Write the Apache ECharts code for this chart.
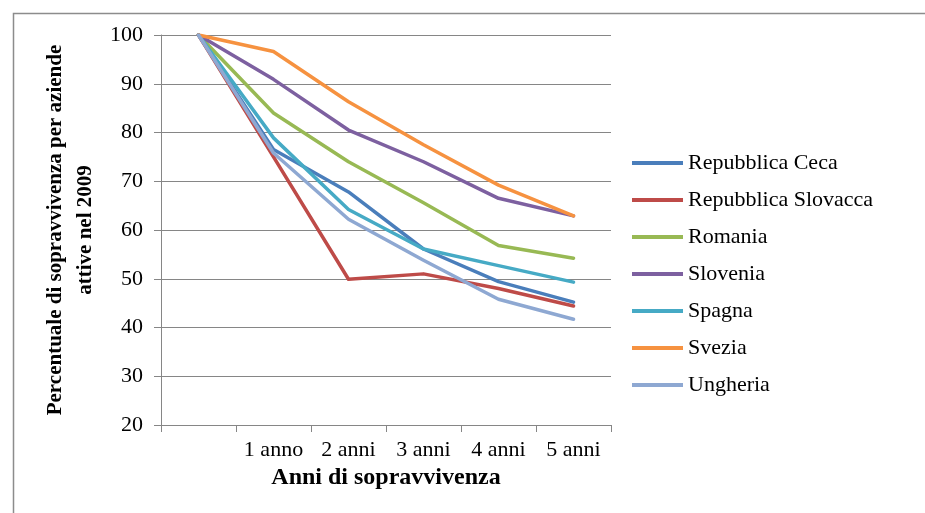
<!DOCTYPE html>
<html>
<head>
<meta charset="utf-8">
<script src="https://cdn.jsdelivr.net/npm/echarts@6/dist/echarts.min.js"></script>
<style>
  html, body { margin: 0; padding: 0; background: #ffffff; }
  #chart { width: 925px; height: 513px; }
</style>
</head>
<body>
<div id="chart"></div>
<script>
// Survival years (first slot is the starting point, left unlabelled)
const categories = ['', '1 anno', '2 anni', '3 anni', '4 anni', '5 anni'];

// Share of firms active in 2009 still alive after n years (%)
const repubblicaCeca     = [100, 76.5, 67.8, 56.1, 49.4, 45.2];
const repubblicaSlovacca = [100, 75.0, 49.9, 51.0, 48.0, 44.4];
const romania            = [100, 84.0, 74.0, 65.6, 56.8, 54.2];
const slovenia           = [100, 90.9, 80.5, 74.0, 66.5, 62.9];
const spagna             = [100, 78.9, 64.2, 56.1, 52.7, 49.3];
const svezia             = [100, 96.6, 86.3, 77.5, 69.2, 62.9];
const ungheria           = [100, 75.8, 62.2, 53.8, 45.8, 41.7];

const yTicks = { min: 20, max: 100, step: 10 };

const seriesList = [
  { name: 'Repubblica Ceca',     data: repubblicaCeca,     color: '#4A7EBB' },
  { name: 'Repubblica Slovacca', data: repubblicaSlovacca, color: '#BE4B48' },
  { name: 'Romania',             data: romania,            color: '#98B954' },
  { name: 'Slovenia',            data: slovenia,           color: '#7D60A0' },
  { name: 'Spagna',              data: spagna,             color: '#46AAC5' },
  { name: 'Svezia',              data: svezia,             color: '#F69240' },
  { name: 'Ungheria',            data: ungheria,           color: '#8EA8D2' }
];

const serif = '"Liberation Serif", "Times New Roman", serif';
const gridGray = '#868686';

const chart = echarts.init(document.getElementById('chart'), null, { renderer: 'canvas' });

chart.setOption({
  backgroundColor: '#ffffff',
  animation: false,
  graphic: [{
    type: 'rect',
    left: 11, top: 11,
    shape: { x: 0, y: 0, width: 1000, height: 600 },
    style: { fill: 'none', stroke: '#8C8C8C', lineWidth: 1.5 },
    silent: true
  }],
  grid: { left: 161, right: 314, top: 35, bottom: 88, containLabel: false },
  legend: {
    orient: 'vertical',
    left: 632,
    top: 152,
    padding: 0,
    itemWidth: 51,
    itemHeight: 14,
    itemGap: 15,
    icon: 'path://M0,0 L51,0 L51,4 L0,4 Z',
    textStyle: { fontFamily: serif, fontSize: 22, color: '#000', lineHeight: 22 },
    data: seriesList.map(s => s.name)
  },
  xAxis: {
    type: 'category',
    data: categories,
    boundaryGap: true,
    name: 'Anni di sopravvivenza',
    nameLocation: 'middle',
    nameGap: 41,
    nameTextStyle: { fontFamily: serif, fontSize: 24, fontWeight: 'bold', color: '#000' },
    axisLine: { lineStyle: { color: gridGray, width: 1 } },
    axisTick: { show: true, inside: false, length: 7, alignWithLabel: false, lineStyle: { color: gridGray } },
    axisLabel: { fontFamily: serif, fontSize: 22, color: '#000', margin: 14, interval: 0 },
    splitLine: { show: false }
  },
  yAxis: {
    type: 'value',
    min: yTicks.min,
    max: yTicks.max,
    interval: yTicks.step,
    name: 'Percentuale di sopravvivenza per aziende\nattive nel 2009',
    nameLocation: 'middle',
    nameRotate: 90,
    nameGap: 60,
    nameTextStyle: { fontFamily: serif, fontSize: 21, fontWeight: 'bold', color: '#000', lineHeight: 30, align: 'center' },
    axisLine: { show: true, lineStyle: { color: gridGray, width: 1 } },
    axisTick: { show: true, inside: false, length: 7, lineStyle: { color: gridGray } },
    axisLabel: { fontFamily: serif, fontSize: 22, color: '#000', margin: 18 },
    splitLine: { show: true, lineStyle: { color: gridGray, width: 1 } }
  },
  series: seriesList.map(s => ({
    name: s.name,
    type: 'line',
    data: s.data,
    symbol: 'none',
    smooth: false,
    color: s.color,
    lineStyle: { color: s.color, width: 3.5, cap: 'round', join: 'round' },
    itemStyle: { color: s.color }
  }))
});
</script>
</body>
</html>
